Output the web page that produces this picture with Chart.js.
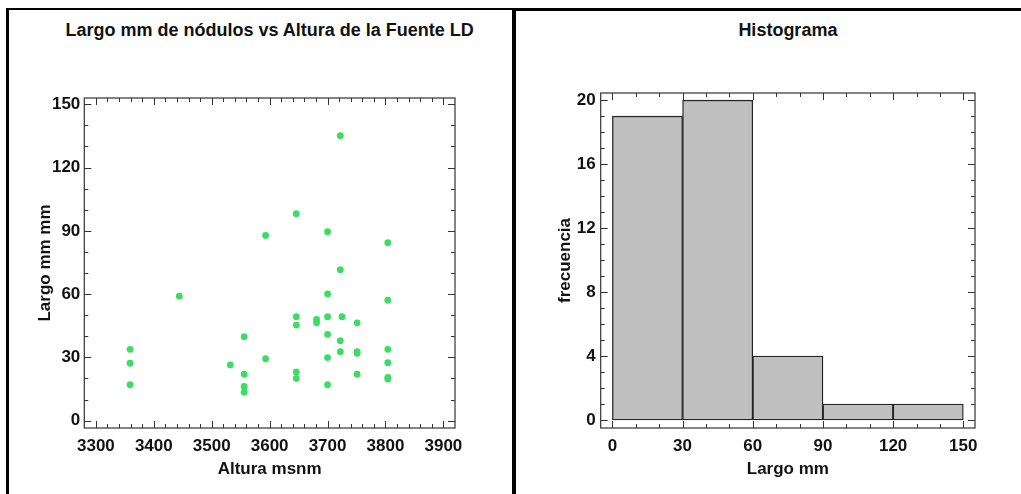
<!DOCTYPE html>
<html>
<head>
<meta charset="utf-8">
<script src="https://cdn.jsdelivr.net/npm/chart.js@4.4.1/dist/chart.umd.min.js"></script>
<style>
  body { margin: 0; background: #fff; width: 1021px; height: 494px; overflow: hidden; position: relative; }
  .line { position: absolute; background: #000; }
  .box { position: absolute; }
  .ttl {
    position: absolute; top: 20px; height: 22px; line-height: 22px; width: 500px; margin-left: -250px;
    text-align: center; font: bold 18px "Liberation Sans", Arial, sans-serif; color: #111; white-space: nowrap;
  }
</style>
</head>
<body>
<div class="line" style="left:6px;top:8px;width:3px;height:486px"></div>
<div class="line" style="left:6px;top:8px;width:510px;height:2px"></div>
<div class="line" style="left:512px;top:8px;width:4px;height:486px"></div>
<div class="line" style="left:516px;top:8px;width:505px;height:3px"></div>

<div class="ttl" style="left:269.6px">Largo mm de nódulos vs Altura de la Fuente LD</div>
<div class="ttl" style="left:787.9px">Histograma</div>

<div class="box" style="left:10px;top:12px;width:500px;height:482px"><canvas id="scatter"></canvas></div>
<div class="box" style="left:520px;top:12px;width:501px;height:482px"><canvas id="histo"></canvas></div>

<script>
// scatter: Altura (msnm) vs Largo (mm)
const altura = [
  3359, 3359, 3359, 3444, 3532, 3556, 3556, 3556, 3556,
  3593, 3593, 3646, 3646, 3646, 3646, 3646, 3681, 3681,
  3700, 3700, 3700, 3700, 3700, 3700, 3722, 3722, 3722, 3722, 3725,
  3751, 3751, 3751, 3751, 3804, 3804, 3804, 3804, 3804, 3804
];
const largo = [
  33.8, 27.2, 17.0, 59.0, 26.4, 39.8, 22.0, 16.2, 13.4,
  87.8, 29.4, 98.1, 49.3, 45.3, 23.1, 20.0, 48.0, 46.4,
  89.6, 60.1, 49.3, 40.9, 29.9, 17.0, 135.1, 71.6, 37.9, 32.7, 49.3,
  46.4, 32.7, 31.9, 22.0, 84.4, 57.1, 33.8, 27.5, 19.7, 20.5
];

// histogram
const binCenters = [15, 45, 75, 105, 135];
const frecuencia = [19, 20, 4, 1, 1];

const tickFont = { family: "'Liberation Sans', Arial, sans-serif", size: 17, weight: "bold" };

// frame + inward ticks on all four sides
const frameTicks = {
  id: "frameTicks",
  afterDraw(chart, args, opts) {
    const { ctx, chartArea: a, scales } = chart;
    const sx = scales.x, sy = scales.y;
    ctx.save();
    ctx.strokeStyle = "#333";
    ctx.lineWidth = 1.2;
    ctx.strokeRect(a.left, a.top, a.right - a.left, a.bottom - a.top);
    ctx.lineWidth = 1;
    const isMajor = (d, major) => Math.abs(d / major - Math.round(d / major)) < 1e-6;
    for (let v = opts.x0; v <= opts.x1 + 1e-9; v += opts.xMinor) {
      const p = Math.round(sx.getPixelForValue(v)) + 0.5;
      const len = isMajor(v - opts.x0, opts.xMajor) ? 7 : 4;
      ctx.beginPath();
      ctx.moveTo(p, a.bottom); ctx.lineTo(p, a.bottom - len);
      ctx.moveTo(p, a.top); ctx.lineTo(p, a.top + len);
      ctx.stroke();
    }
    for (let v = opts.y0; v <= opts.y1 + 1e-9; v += opts.yMinor) {
      const p = Math.round(sy.getPixelForValue(v)) + 0.5;
      const len = isMajor(v - opts.y0, opts.yMajor) ? 7 : 4;
      ctx.beginPath();
      ctx.moveTo(a.left, p); ctx.lineTo(a.left + len, p);
      ctx.moveTo(a.right, p); ctx.lineTo(a.right - len, p);
      ctx.stroke();
    }
    ctx.restore();
  }
};

const noGrid = { display: false, drawTicks: false };

new Chart(document.getElementById("scatter"), {
  type: "scatter",
  data: {
    datasets: [{
      data: altura.map((a, i) => ({ x: a, y: largo[i] })),
      backgroundColor: "#3ade62",
      borderWidth: 0,
      pointRadius: 3.4,
    }],
  },
  options: {
    responsive: true,
    maintainAspectRatio: false,
    animation: false,
    layout: { padding: { left: 0, right: 55, top: 86, bottom: 0 } },
    plugins: {
      legend: { display: false },
      tooltip: { enabled: false },
      frameTicks: { x0: 3300, x1: 3900, xMinor: 20, xMajor: 100, y0: 0, y1: 150, yMinor: 10, yMajor: 30 },
    },
    scales: {
      x: {
        type: "linear",
        min: 3280,
        max: 3920,
        grid: noGrid,
        border: { display: false },
        ticks: { stepSize: 100, includeBounds: false, font: tickFont, color: "#111", padding: 8, maxRotation: 0, callback: (v) => String(v) },
        title: { display: true, text: "Altura msnm", font: tickFont, color: "#111", padding: { top: 0, bottom: 14 } },
        afterFit: (s) => { s.height = 66; },
      },
      y: {
        min: -3.5,
        max: 153,
        grid: noGrid,
        border: { display: false },
        ticks: { stepSize: 30, includeBounds: false, font: tickFont, color: "#111", padding: 4 },
        title: { display: true, text: "Largo mm mm", font: tickFont, color: "#111", padding: { top: 25, bottom: 0 } },
        afterFit: (s) => { s.width = 74.3; },
      },
    },
  },
  plugins: [frameTicks],
});

new Chart(document.getElementById("histo"), {
  type: "bar",
  data: {
    datasets: [{
      data: binCenters.map((c, i) => ({ x: c, y: frecuencia[i] })),
      backgroundColor: "#c0c0c0",
      borderColor: "#222",
      borderWidth: 1.3,
      borderSkipped: false,
      barPercentage: 1,
      categoryPercentage: 1,
    }],
  },
  options: {
    responsive: true,
    maintainAspectRatio: false,
    animation: false,
    layout: { padding: { left: 0, right: 46, top: 81, bottom: 0 } },
    plugins: {
      legend: { display: false },
      tooltip: { enabled: false },
      frameTicks: { x0: 0, x1: 150, xMinor: 10, xMajor: 30, y0: 0, y1: 20, yMinor: 1, yMajor: 4 },
    },
    scales: {
      x: {
        type: "linear",
        min: -5,
        max: 155,
        offset: false,
        grid: noGrid,
        border: { display: false },
        ticks: { stepSize: 30, includeBounds: false, font: tickFont, color: "#111", padding: 8, maxRotation: 0 },
        title: { display: true, text: "Largo mm", font: tickFont, color: "#111", padding: { top: 0, bottom: 14 } },
        afterFit: (s) => { s.height = 66; },
      },
      y: {
        min: -0.5,
        max: 20.45,
        grid: noGrid,
        border: { display: false },
        ticks: { stepSize: 4, includeBounds: false, font: tickFont, color: "#111", padding: 5 },
        title: { display: true, text: "frecuencia", font: tickFont, color: "#111", padding: { top: 34.8, bottom: 0 } },
        afterFit: (s) => { s.width = 80.7; },
      },
    },
  },
  plugins: [frameTicks],
});
</script>
</body>
</html>
